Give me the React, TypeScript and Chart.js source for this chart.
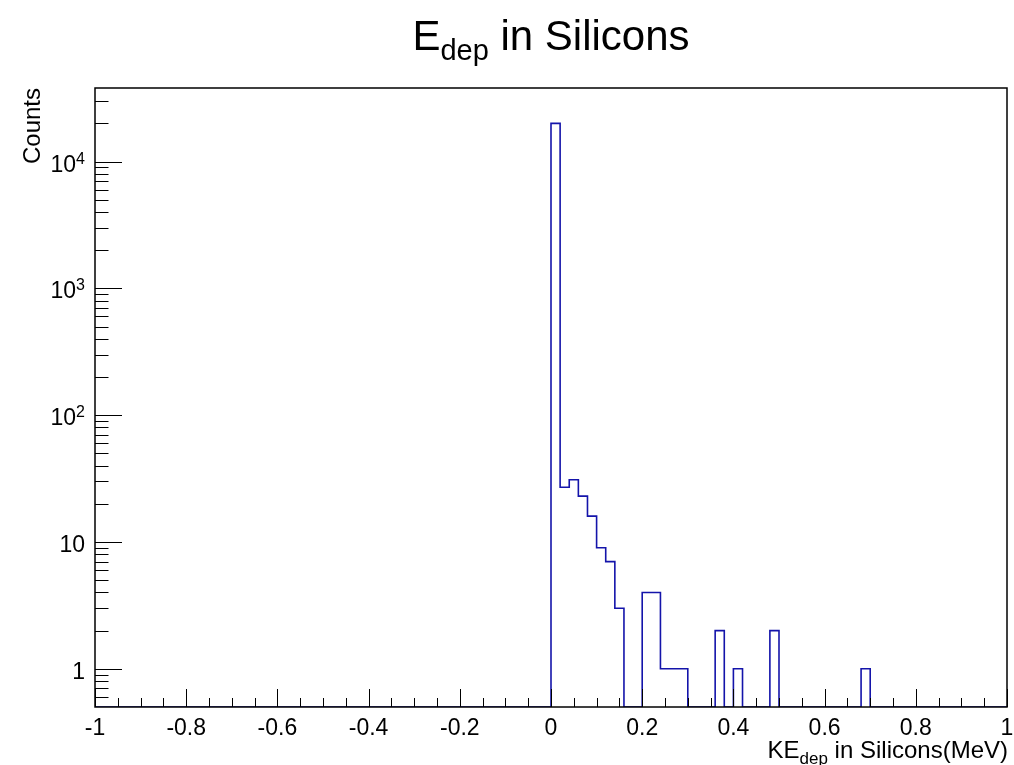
import { useEffect, useRef } from "react";
import { Chart, registerables } from "chart.js";

Chart.register(...registerables);

// Histogram binning (axis range)
const X_MIN = -1;
const X_MAX = 1;
const N_BINS = 100;
const Y_MIN = 0.5;
const Y_MAX = 38000;

// Non-empty bins: low edge (MeV) and counts
const filledBinLowEdges = [0.0, 0.02, 0.04, 0.06, 0.08, 0.1, 0.12, 0.14, 0.2, 0.22, 0.24, 0.26, 0.28, 0.36, 0.4, 0.48, 0.68];
const filledBinCounts = [20000, 27, 31, 23, 16, 9, 7, 3, 4, 4, 1, 1, 1, 2, 1, 2, 1];

// Tick labels
const xTickValues = [-1, -0.8, -0.6, -0.4, -0.2, 0, 0.2, 0.4, 0.6, 0.8, 1];
const xTickLabels = ["-1", "-0.8", "-0.6", "-0.4", "-0.2", "0", "0.2", "0.4", "0.6", "0.8", "1"];
const yTickValues = [1, 10, 100, 1000, 10000];
const yTickBases = ["1", "10", "10", "10", "10"];
const yTickExponents = ["", "", "2", "3", "4"];

const FONT = '"Liberation Sans", Arial, Helvetica, sans-serif';

type Run = { text: string; size: number; dy: number };

function drawRuns(ctx: CanvasRenderingContext2D, runs: Run[], x: number, y: number, align: "left" | "center" | "right") {
  const widths = runs.map((r) => {
    ctx.font = `${r.size}px ${FONT}`;
    return ctx.measureText(r.text).width;
  });
  const total = widths.reduce((a, b) => a + b, 0);
  let cur = align === "right" ? x - total : align === "center" ? x - total / 2 : x;
  ctx.textAlign = "left";
  ctx.textBaseline = "alphabetic";
  runs.forEach((r, i) => {
    ctx.font = `${r.size}px ${FONT}`;
    ctx.fillText(r.text, cur, y + r.dy);
    cur += widths[i];
  });
}

function buildCounts(): number[] {
  const bw = (X_MAX - X_MIN) / N_BINS;
  const counts = new Array(N_BINS).fill(0);
  filledBinLowEdges.forEach((edge, i) => {
    const idx = Math.round((edge - X_MIN) / bw);
    counts[idx] = filledBinCounts[i];
  });
  return counts;
}

const rootStyle = {
  id: "rootStyle",
  afterDraw(chart: any) {
    const ctx: CanvasRenderingContext2D = chart.ctx;
    const { left, right, top, bottom } = chart.chartArea;
    const xs = chart.scales.x;
    const ys = chart.scales.y;
    ctx.save();
    ctx.strokeStyle = "#000";
    ctx.fillStyle = "#000";
    ctx.lineWidth = 1;

    // x ticks (major every 0.2, minor every 0.05), drawn inward
    ctx.beginPath();
    for (let k = 0; k <= 40; k++) {
      const v = X_MIN + k * 0.05;
      const px = Math.round(xs.getPixelForValue(v)) + 0.5;
      const len = k % 4 === 0 ? 18 : 9;
      ctx.moveTo(px, bottom);
      ctx.lineTo(px, bottom - len);
    }
    // y ticks (log)
    for (let d = -1; d <= 4; d++) {
      for (let m = 1; m <= 9; m++) {
        const v = m * Math.pow(10, d);
        if (v <= Y_MIN || v >= Y_MAX) continue;
        const py = Math.round(ys.getPixelForValue(v)) + 0.5;
        const len = m === 1 ? 27 : 13.5;
        ctx.moveTo(left, py);
        ctx.lineTo(left + len, py);
      }
    }
    ctx.stroke();

    // frame
    ctx.lineWidth = 1.5;
    ctx.strokeRect(Math.round(left), Math.round(top), Math.round(right - left), Math.round(bottom - top));

    // x labels
    xTickValues.forEach((v, i) => {
      const px = xs.getPixelForValue(v);
      drawRuns(ctx, [{ text: xTickLabels[i], size: 23, dy: 0 }], px, 735, "center");
    });

    // y labels
    yTickValues.forEach((v, i) => {
      const py = ys.getPixelForValue(v);
      const runs: Run[] = [{ text: yTickBases[i], size: 23, dy: 0 }];
      if (yTickExponents[i]) runs.push({ text: yTickExponents[i], size: 16, dy: -8 });
      drawRuns(ctx, runs, 85, py + 10, "right");
    });

    // x title
    drawRuns(
      ctx,
      [
        { text: "KE", size: 24, dy: 0 },
        { text: "dep", size: 17, dy: 6 },
        { text: " in Silicons(MeV)", size: 24, dy: 0 },
      ],
      1008,
      758,
      "right"
    );

    // y title
    ctx.save();
    ctx.translate(40, top);
    ctx.rotate(-Math.PI / 2);
    ctx.font = `24px ${FONT}`;
    ctx.textAlign = "right";
    ctx.textBaseline = "alphabetic";
    ctx.fillText("Counts", 0, 0);
    ctx.restore();

    // main title
    drawRuns(
      ctx,
      [
        { text: "E", size: 42, dy: 0 },
        { text: "dep", size: 29, dy: 10 },
        { text: " in Silicons", size: 42, dy: 0 },
      ],
      (left + right) / 2,
      50,
      "center"
    );

    ctx.restore();
  },
};

export default function App() {
  const ref = useRef<HTMLCanvasElement>(null);
  useEffect(() => {
    const counts = buildCounts();
    const bw = (X_MAX - X_MIN) / N_BINS;
    const points = counts.map((c, i) => ({ x: X_MIN + i * bw, y: c > 0 ? c : Y_MIN }));
    points.push({ x: X_MAX, y: points[points.length - 1].y });

    const chart = new Chart(ref.current!, {
      type: "line",
      data: {
        datasets: [
          {
            data: points,
            stepped: "before",
            borderColor: "rgb(20,20,170)",
            borderWidth: 1.6,
            pointRadius: 0,
            fill: false,
          } as any,
        ],
      },
      options: {
        animation: false,
        responsive: false,
        devicePixelRatio: 1,
        layout: { padding: { left: 95, top: 88, right: 7, bottom: 58 } },
        plugins: { legend: { display: false }, tooltip: { enabled: false }, title: { display: false } },
        scales: {
          x: { type: "linear", min: X_MIN, max: X_MAX, display: false },
          y: { type: "logarithmic", min: Y_MIN, max: Y_MAX, display: false },
        },
      },
      plugins: [rootStyle],
    });
    return () => chart.destroy();
  }, []);
  return (
    <div style={{ position: "absolute", left: 0, top: 0, width: 1014, height: 765, background: "#fff" }}>
      <canvas ref={ref} width={1014} height={765} style={{ display: "block" }} />
    </div>
  );
}
